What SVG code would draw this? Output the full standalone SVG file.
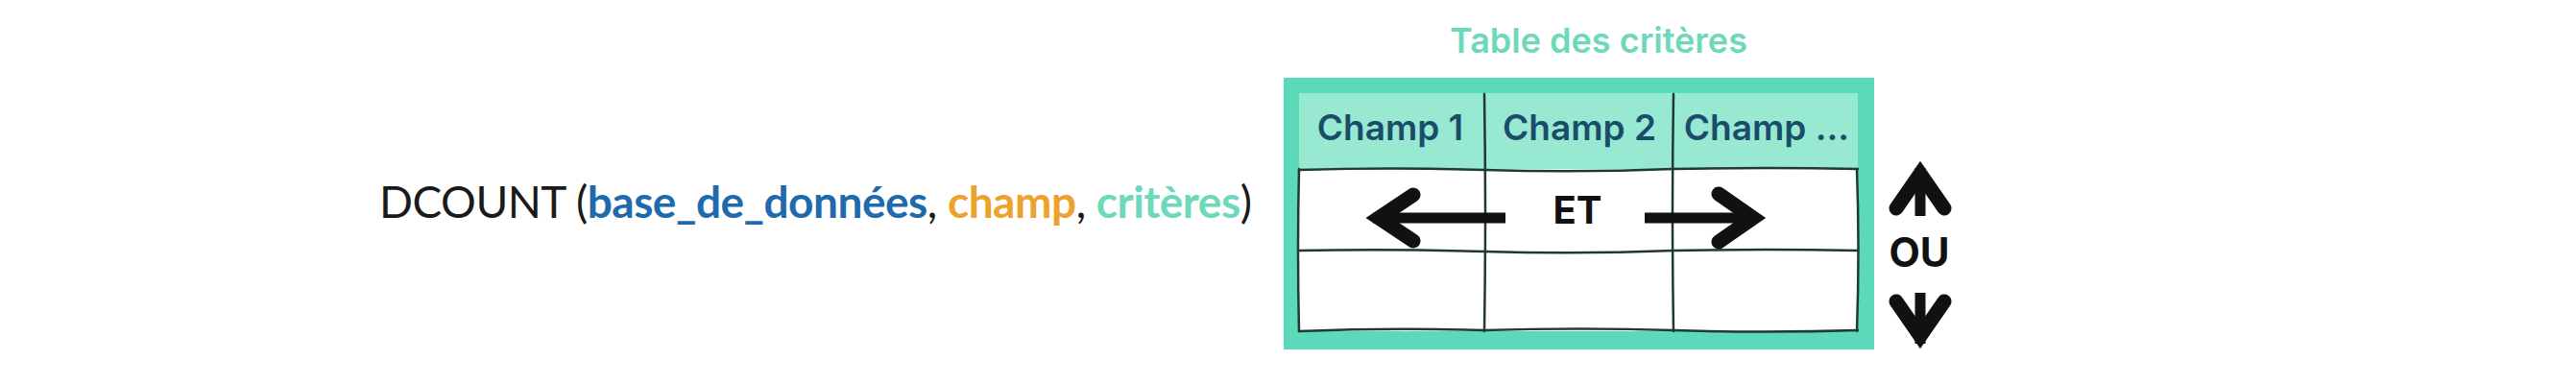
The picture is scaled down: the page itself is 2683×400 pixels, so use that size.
<svg xmlns="http://www.w3.org/2000/svg" width="2683" height="400" viewBox="0 0 2683 400">
  <defs>
    <style>
      .formula { font-family: "Lato", "Open Sans", sans-serif; font-size: 46px; letter-spacing: -0.5px; fill: #1a1a1a; }
      .b { font-weight: 700; }
      .blue { fill: #1f6aad; }
      .orange { fill: #eda22b; }
      .teal { fill: #6ed8ba; }
      .title { font-family: "Inter", "Noto Sans", sans-serif; font-weight: 600; font-size: 36px; fill: #6ed8ba; }
      .head { font-family: "Inter", "Noto Sans", sans-serif; font-weight: 600; font-size: 37px; fill: #1b4d6b; }
      .lbl { font-family: "Inter", "Noto Sans", sans-serif; font-weight: 700; fill: #111111; }
      .grid { fill: none; stroke: #1f3a35; stroke-width: 2.5; stroke-linecap: round; }
      .shaft { stroke: #111111; stroke-width: 11; fill: none; }
      .headarrow { stroke: #111111; stroke-width: 15; fill: none; stroke-linecap: round; stroke-linejoin: miter; stroke-miterlimit: 6; }
    </style>
  </defs>

  <g id="formula">
    <text class="formula" x="395" y="227">DCOUNT (<tspan class="b blue">base_de_données</tspan>, <tspan class="b orange">champ</tspan>, <tspan class="b teal">critères</tspan>)</text>
  </g>

  <g id="title">
    <text class="title" x="1665" y="55" text-anchor="middle">Table des critères</text>
  </g>

  <g id="table">
    <rect x="1337" y="81" width="615" height="283" fill="#5cd9b9"/>
    <rect x="1353" y="97" width="582" height="248" fill="#ffffff"/>
    <rect x="1353" y="97" width="582" height="79" fill="#97e9d1"/>
    <g id="grid">
      <path class="grid" d="M1353,177 Q1450,174 1546,177 Q1645,180 1743,176 Q1840,174 1935,176"/>
      <path class="grid" d="M1353,261 Q1450,259 1546,262 Q1645,265 1743,261 Q1840,259 1935,261"/>
      <path class="grid" d="M1353,345 Q1450,341 1546,344 Q1645,341 1743,344 Q1840,347 1935,344"/>
      <path class="grid" d="M1353,176 Q1351,260 1353,345"/>
      <path class="grid" d="M1546,98 Q1548,220 1546,345"/>
      <path class="grid" d="M1743,98 Q1741,220 1743,345"/>
      <path class="grid" d="M1934,176 Q1937,260 1934,345"/>
    </g>
  </g>

  <g id="header-champ1"><text class="head" x="1448" y="146" text-anchor="middle">Champ 1</text></g>
  <g id="header-champ2"><text class="head" x="1645" y="146" text-anchor="middle">Champ 2</text></g>
  <g id="header-champ3"><text class="head" x="1840" y="146" text-anchor="middle">Champ ...</text></g>

  <g id="label-et"><text class="lbl" x="1643" y="233" font-size="40" text-anchor="middle">ET</text></g>
  <g id="label-ou"><text class="lbl" x="1999" y="278" font-size="42" text-anchor="middle">OU</text></g>

  <g id="connectors">
    <!-- left arrow -->
    <line class="shaft" x1="1430" y1="227" x2="1568" y2="227"/>
    <polyline class="headarrow" points="1472,203 1436,227 1472,251"/>
    <!-- right arrow -->
    <line class="shaft" x1="1713" y1="227" x2="1830" y2="227"/>
    <polyline class="headarrow" points="1790,202 1826,227 1790,252"/>
    <!-- up arrow -->
    <line class="shaft" x1="2000" y1="175" x2="2000" y2="225"/>
    <polyline class="headarrow" points="1975,217 2000,181 2025,217"/>
    <!-- down arrow -->
    <line class="shaft" x1="2000" y1="305" x2="2000" y2="358"/>
    <polyline class="headarrow" points="1975,314 2000,350 2025,314"/>
  </g>
</svg>
